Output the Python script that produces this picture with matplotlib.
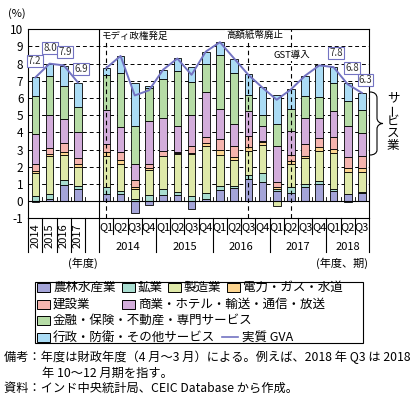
import matplotlib
matplotlib.use("Agg")
import matplotlib.pyplot as plt
import numpy as np
from matplotlib.transforms import blended_transform_factory
from matplotlib.lines import Line2D
from matplotlib.patches import Rectangle, PathPatch
from matplotlib.path import Path

plt.rcParams['font.family'] = ['Noto Sans CJK JP', 'DejaVu Sans']

# ---------------- data ----------------
annual_labels = ["2014", "2015", "2016", "2017"]
quarter_labels = ["Q1", "Q2", "Q3", "Q4"] * 4 + ["Q1", "Q2", "Q3"]
quarter_years = ["2014", "2015", "2016", "2017", "2018"]

sector_names = ["農林水産業", "鉱業", "製造業", "電力・ガス・水道", "建設業",
                "商業・ホテル・輸送・通信・放送", "金融・保険・不動産・専門サービス",
                "行政・防衛・その他サービス"]

# contributions (%pt): 4 fiscal years, then 19 quarters (2014Q1 .. 2018Q3)
agri = [-0.03, 0.10, 0.96, 0.73,
        0.42, 0.44, -0.71, -0.23, 0.35, 0.35, -0.46, 0.15, 0.67, 0.77, 1.31, 1.12,
        0.58, 0.50, 0.83, 1.02, 0.60, 0.44, 0.48]
mining = [0.30, 0.30, 0.25, 0.15,
          0.42, 0.12, 0.15, 0.35, 0.35, 0.20, 0.29, 0.35, 0.23, 0.12, 0.23, 0.52,
          0.12, 0.30, 0.19, 0.13, 0.08, -0.05, 0.06]
manuf = [1.35, 2.24, 1.47, 1.12,
         1.80, 1.62, 0.58, 1.48, 1.90, 2.17, 2.46, 2.73, 1.80, 1.48, 1.40, 1.65,
         -0.29, 1.35, 1.48, 1.79, 2.13, 1.27, 1.15]
elec = [0.10, 0.10, 0.15, 0.15,
        0.23, 0.23, 0.12, 0.10, 0.05, 0.10, 0.06, 0.14, 0.26, 0.19, 0.23, 0.17,
        0.15, 0.20, 0.15, 0.23, 0.23, 0.23, 0.23]
constr = [0.42, 0.35, 0.54, 0.38,
          0.45, 0.45, 0.36, 0.21, 0.29, 0.05, 0.38, 0.38, 0.65, 0.67, 0.63, 0.06,
          0.25, 0.35, 0.67, 0.50, 0.67, 0.63, 0.73]
trade = [1.72, 1.90, 1.41, 1.47,
         1.96, 1.45, 0.96, 2.50, 1.87, 1.50, 1.81, 2.60, 1.73, 1.25, 1.44, 0.85,
         2.10, 1.40, 1.50, 1.19, 1.54, 1.83, 1.29]
finance = [2.24, 2.30, 1.91, 1.45,
           2.08, 3.13, 2.21, 1.97, 2.30, 3.20, 1.94, 1.65, 3.17, 2.98, 0.96, 0.63,
           1.29, 1.25, 1.29, 1.19, 1.60, 1.42, 1.35]
public = [1.10, 0.70, 1.20, 1.45,
          0.39, 1.01, 2.48, 0.10, 0.55, 0.75, 0.85, 0.67, 0.73, 0.80, 1.17, 1.62,
          1.69, 1.15, 1.19, 1.85, 0.96, 1.03, 1.01]

gva_annual = [7.2, 8.0, 7.9, 6.9]
gva_quarterly = [7.75, 8.45, 6.15, 6.45, 7.65, 8.3, 7.35, 8.7, 9.25, 8.3, 7.35, 6.6,
                 5.9, 6.5, 7.3, 7.9, 7.8, 6.8, 6.3]
annual_value_labels = ["7.2", "8.0", "7.9", "6.9"]
quarter_value_labels = {16: "7.8", 17: "6.8", 18: "6.3"}

events = [(0, "モディ政権発足"), (10, "高額紙幣廃止"), (13, "GST導入")]

colors = ["#a4a4d8", "#a9ddd0", "#dfe9a9", "#fcd48f", "#f5b4ae",
          "#d3addb", "#b6dca6", "#abdcf5"]
line_color = "#7373c2"

# ---------------- figure ----------------
W, H = 411, 399
fig = plt.figure(figsize=(W / 100, H / 100), dpi=100)
fig.patch.set_facecolor("white")

def fx(p):
    return p / W

def fy(p):
    return 1 - p / H

left, right, top, bottom = 28.3, 369.0, 29.3, 218.3
ax = fig.add_axes([fx(left), fy(bottom), fx(right) - fx(left), fy(top) - fy(bottom)])

n_a = len(annual_labels)
n_q = len(quarter_labels)
xa = np.arange(n_a)
xq = np.arange(n_q) + n_a + 1
xall = np.concatenate([xa, xq])

series = [agri, mining, manuf, elec, constr, trade, finance, public]
pos_bottom = np.zeros(len(xall))
neg_bottom = np.zeros(len(xall))
for vals, c in zip(series, colors):
    v = np.array(vals)
    b = np.where(v >= 0, pos_bottom, neg_bottom)
    ax.bar(xall, v, bottom=b, width=0.54, color=c, edgecolor="black",
           linewidth=0.6, zorder=3)
    pos_bottom += np.where(v >= 0, v, 0)
    neg_bottom += np.where(v < 0, v, 0)

ax.plot(xa, gva_annual, color=line_color, lw=1.4, zorder=5)
ax.plot(xq, gva_quarterly, color=line_color, lw=1.4, zorder=5)

ax.set_xlim(-0.5, n_a + n_q + 0.5)
ax.set_ylim(-1, 10)
ax.set_yticks(range(-1, 11))
ax.set_yticklabels([str(i) for i in range(-1, 11)], fontsize=8.5)
ax.tick_params(axis="y", length=0, pad=3.5)
ax.set_xticks([])
for s in ax.spines.values():
    s.set_linewidth(0.8)
for yv in range(1, 10):
    ax.axhline(yv, color="black", lw=0.7, ls=(0, (4, 3)), zorder=1)
ax.axhline(0, color="black", lw=0.8, zorder=4)

# small ticks on zero line
for xb in np.arange(0.5, n_a + n_q + 0.5, 1.0):
    if abs(xb - (n_a + 0.5)) < 1e-6:
        continue
    ax.plot([xb, xb], [0, 0.22], color="black", lw=0.6, zorder=4)

# separator between annual and quarterly
sep = n_a + 0.5
ax.axvline(sep, color="black", lw=0.8, zorder=4)

# event lines
for qi, txt in events:
    xv = xq[qi]
    ax.axvline(xv, color="black", lw=0.8, ls=(0, (4, 3)), zorder=4)

ax.text(xq[0] + 2.05, 9.62, events[0][1], fontsize=6.8, ha="center", va="center",
        zorder=6, bbox=dict(facecolor="white", edgecolor="none", pad=0.6))
ax.text(xq[10] + 0.45, 9.65, events[1][1], fontsize=6.8, ha="center", va="center",
        zorder=6, bbox=dict(facecolor="white", edgecolor="none", pad=0.6))
ax.text(xq[13] + 0.1, 8.5, events[2][1], fontsize=6.8, ha="center", va="center",
        zorder=6, bbox=dict(facecolor="white", edgecolor="none", pad=0.6))

# value labels
boxkw = dict(facecolor="white", edgecolor=line_color, linewidth=0.8, pad=0.8)
ann_off = [(-0.05, 0.95), (0.05, 0.9), (0.1, 0.8), (0.2, 0.8)]
for i, (lab, (dx, dy)) in enumerate(zip(annual_value_labels, ann_off)):
    ax.text(xa[i] + dx, gva_annual[i] + dy, lab, fontsize=7, ha="center", va="center",
            color="#333333", zorder=7, bbox=boxkw)
q_off = {16: (0.2, 0.8), 17: (0.3, 0.95), 18: (0.25, 0.75)}
for qi, lab in quarter_value_labels.items():
    dx, dy = q_off[qi]
    ax.text(xq[qi] + dx, gva_quarterly[qi] + dy, lab, fontsize=7, ha="center",
            va="center", color="#333333", zorder=7, bbox=boxkw, clip_on=False)

fig.text(fx(17), fy(14), "(%)", fontsize=8, ha="center", va="center")

# ---------------- category axis below ----------------
tb = blended_transform_factory(ax.transData, fig.transFigure)

def vline(xv, p0, p1, lw=0.8):
    fig.add_artist(Line2D([xv, xv], [fy(p0), fy(p1)], transform=tb, color="black",
                          lw=lw, clip_on=False))

long_end = 252.0
short_end = 233.5
for xb in np.arange(-0.5, n_a + 0.5, 1.0):
    vline(xb, bottom, long_end)
vline(sep, bottom, long_end)
for k in range(1, n_q + 1):
    xb = sep + k
    if k % 4 == 0 or k == n_q:
        vline(xb, bottom, long_end)
    else:
        vline(xb, bottom, short_end)

for i, lab in enumerate(annual_labels):
    fig.text(xa[i], fy(235.5), lab, transform=tb, rotation=90, fontsize=8,
             ha="center", va="center")
for i, lab in enumerate(quarter_labels):
    fig.text(xq[i], fy(227.5), lab, transform=tb, fontsize=8, ha="center", va="center")
for j, yr in enumerate(quarter_years):
    idx = xq[4 * j: 4 * j + 4]
    fig.text(np.mean(idx), fy(246.5), yr, transform=tb, fontsize=8,
             ha="center", va="center")

fig.text(fx(83), fy(263), "(年度)", fontsize=8, ha="center", va="center")
fig.text(fx(342), fy(263), "(年度、期)", fontsize=8, ha="center", va="center")

# ---------------- brace + サービス業 ----------------
pts = [(370, 92), (374, 92), (377, 94), (377, 98),
       (377, 118),
       (377, 121.5), (380, 123.5), (383, 123.5),
       (380, 123.5), (377, 125.5), (377, 129),
       (377, 150),
       (377, 153), (374, 155), (370, 155)]
codes = [Path.MOVETO, Path.CURVE4, Path.CURVE4, Path.CURVE4,
         Path.LINETO,
         Path.CURVE4, Path.CURVE4, Path.CURVE4,
         Path.CURVE4, Path.CURVE4, Path.CURVE4,
         Path.LINETO,
         Path.CURVE4, Path.CURVE4, Path.CURVE4]
verts = [(fx(x), fy(y)) for x, y in pts]
fig.add_artist(PathPatch(Path(verts, codes), transform=fig.transFigure,
                         facecolor="none", edgecolor="black", lw=0.8))
svc_chars = ["サ", "ー", "ビ", "ス", "業"]
svc_y = [98, 109.5, 121, 133, 146]
for ch, yy in zip(svc_chars, svc_y):
    rot = 90 if ch == "ー" else 0
    fig.text(fx(393), fy(yy), ch, fontsize=9, ha="center", va="center", rotation=rot)

# ---------------- legend ----------------
fig.add_artist(Rectangle((fx(35), fy(343.3)), fx(363) - fx(35), fy(281.7) - fy(343.3),
                         transform=fig.transFigure, facecolor="white",
                         edgecolor="black", lw=0.8))
leg_items = [
    (0, 37, 287.5), (1, 122, 287.5), (2, 168, 287.5), (3, 227, 287.5),
    (4, 37, 304), (5, 122, 304),
    (6, 37, 320.7),
    (7, 37, 337.3),
]
pw, ph = 13, 9
for si, xx, yy in leg_items:
    fig.add_artist(Rectangle((fx(xx), fy(yy + ph / 2)), fx(pw), ph / H,
                             transform=fig.transFigure, facecolor=colors[si],
                             edgecolor="black", lw=0.7))
    fig.text(fx(xx + pw + 3), fy(yy), sector_names[si], fontsize=9,
             ha="left", va="center")
fig.add_artist(Line2D([fx(222), fx(238)], [fy(337.3), fy(337.3)],
                      transform=fig.transFigure, color=line_color, lw=1.2))
fig.text(fx(242), fy(337.3), "実質 GVA", fontsize=9, ha="left", va="center")

# ---------------- notes ----------------
fig.text(fx(4), fy(357), "備考：年度は財政年度（4 月〜3 月）による。例えば、2018 年 Q3 は 2018",
         fontsize=8.8, ha="left", va="center")
fig.text(fx(41.5), fy(373.5), "年 10〜12 月期を指す。", fontsize=8.8, ha="left", va="center")
fig.text(fx(4), fy(388), "資料：インド中央統計局、CEIC Database から作成。",
         fontsize=8.8, ha="left", va="center")

fig.savefig("out.png", dpi=100, facecolor="white")
